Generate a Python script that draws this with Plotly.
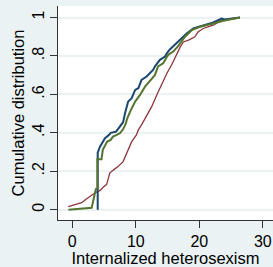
import plotly.graph_objects as go

# Cumulative distribution curves (x = internalized heterosexism score, y = cumulative share)
red_x = [-0.63, 0.16, 1.48, 2.0, 2.8, 3.6, 4.4, 4.9, 5.4, 5.7, 5.9, 6.5, 7.2, 8.0, 8.8, 9.35, 10.1, 10.4, 10.9, 11.45, 12.5, 13.3, 14.1, 14.9, 15.65, 16.4, 17.0, 17.5, 18.3, 19.3, 19.8, 20.6, 22.2, 23.5, 26.4]
red_y = [0.016, 0.024, 0.036, 0.05, 0.07, 0.088, 0.1, 0.118, 0.13, 0.17, 0.19, 0.207, 0.224, 0.25, 0.311, 0.354, 0.389, 0.415, 0.441, 0.476, 0.536, 0.597, 0.658, 0.71, 0.754, 0.808, 0.847, 0.873, 0.882, 0.90, 0.925, 0.943, 0.96, 0.986, 1.0]

blue_x = [4.0, 4.0, 4.36, 4.9, 5.15, 5.8, 6.05, 6.9, 7.5, 8.0, 8.3, 8.8, 9.35, 9.9, 10.4, 10.9, 11.7, 12.75, 13.0, 13.8, 14.6, 14.9, 15.4, 16.3, 17.1, 18.0, 19.05, 20.1, 22.2, 23.5, 24.0, 26.4]
blue_y = [0.0, 0.297, 0.328, 0.354, 0.372, 0.389, 0.40, 0.406, 0.432, 0.455, 0.502, 0.5625, 0.58, 0.623, 0.632, 0.675, 0.693, 0.728, 0.745, 0.78, 0.797, 0.815, 0.835, 0.862, 0.885, 0.917, 0.943, 0.952, 0.974, 0.995, 0.99, 1.0]

green_x = [-0.6, 1.5, 3.05, 3.7, 3.95, 3.95, 4.6, 4.8, 5.3, 5.5, 6.05, 6.4, 7.0, 7.5, 8.0, 8.45, 8.6, 9.1, 9.9, 10.66, 11.45, 12.2, 13.0, 13.5, 14.3, 15.1, 15.9, 16.7, 17.75, 18.8, 20.1, 22.2, 23.8, 26.4]
green_y = [0.0, 0.004, 0.01, 0.106, 0.11, 0.262, 0.262, 0.311, 0.337, 0.354, 0.363, 0.38, 0.389, 0.398, 0.418, 0.45, 0.47, 0.51, 0.5625, 0.597, 0.64, 0.667, 0.70, 0.745, 0.762, 0.806, 0.823, 0.852, 0.90, 0.934, 0.952, 0.969, 0.983, 1.0]

x_ticks = [0, 10, 20, 30]
y_ticks = [0, 0.2, 0.4, 0.6, 0.8, 1]
y_tick_labels = ["0", ".2", ".4", ".6", ".8", "1"]

fig = go.Figure()
fig.add_trace(go.Scatter(x=red_x, y=red_y, mode="lines", line=dict(color="#90353b", width=1.3), name="red"))
fig.add_trace(go.Scatter(x=blue_x, y=blue_y, mode="lines", line=dict(color="#1a476f", width=2), name="blue"))
fig.add_trace(go.Scatter(x=green_x, y=green_y, mode="lines", line=dict(color="#55752f", width=2), name="green"))

fig.update_layout(
    width=273, height=267,
    margin=dict(l=58, r=0, t=6, b=47, autoexpand=False),
    paper_bgcolor="#EAF2F3",
    plot_bgcolor="white",
    showlegend=False,
    font=dict(family="Liberation Sans, Arial, sans-serif", color="#000"),
)
fig.update_xaxes(
    range=[-2.25, 31.6], tickvals=x_ticks, ticks="outside", ticklen=7, tickcolor="#333",
    showline=True, linecolor="#333", linewidth=1, showgrid=False, zeroline=False, automargin=False,
    tickfont=dict(size=16), title=dict(text="Internalized heterosexism", font=dict(size=16.5), standoff=0),
)
fig.update_yaxes(
    range=[-0.054, 1.06], tickvals=y_ticks, ticktext=y_tick_labels, tickangle=-90,
    ticks="outside", ticklen=7, tickcolor="#333", automargin=False,
    showline=True, linecolor="#333", linewidth=1, showgrid=True, gridcolor="#EAF2F3", gridwidth=1.5,
    zeroline=False, tickfont=dict(size=16),
    title=dict(text="Cumulative distribution", font=dict(size=16.5), standoff=0),
)
fig.write_html(
    "out.html",
    config={"displayModeBar": False},
    post_script="document.body.style.margin='0';document.body.style.overflow='hidden';",
)
